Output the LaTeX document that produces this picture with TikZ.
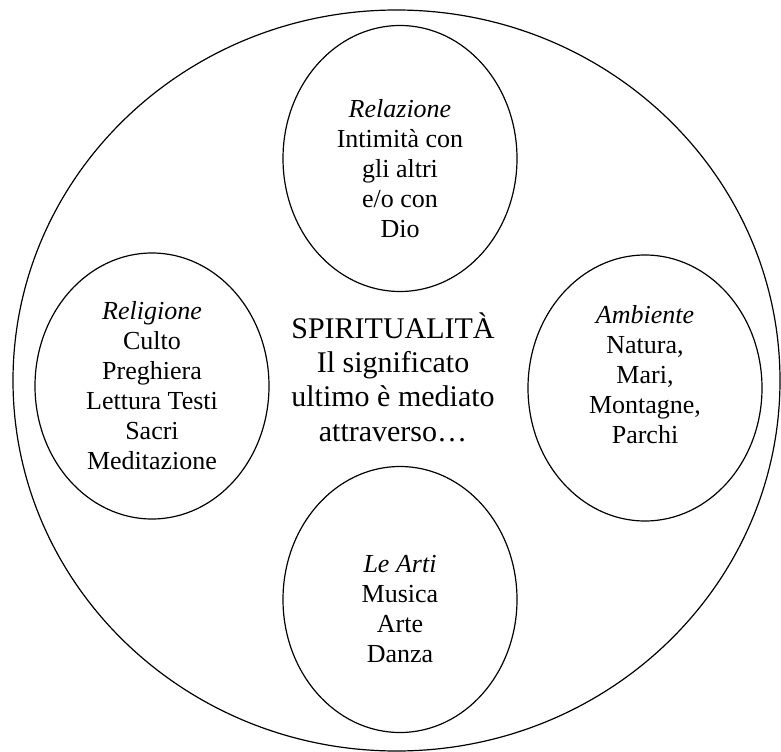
\documentclass[tikz,border=0pt]{standalone}
\usepackage{fontspec}
\setmainfont{Liberation Serif}
\usetikzlibrary{shapes.geometric}

\begin{document}
\begin{tikzpicture}[x=0.75pt,y=-0.75pt,line width=0.9pt,
        area/.style={draw,ellipse,minimum width=175.5pt,minimum height=199.5pt,inner sep=0pt},
        areatext/.style={align=center,inner sep=0pt,font=\fontsize{19.5}{22.5}\selectfont}]
        \useasboundingbox (0,0) rectangle (781,752);
        \node[draw,ellipse,minimum width=575.25pt,minimum height=555.75pt,inner sep=0pt] (spirit) at (396.5,380.5) {};
        \node[area] (rel) at (400,158.5) {};
        \node[area] (rlg) at (152,386) {};
        \node[area] (amb) at (645,388) {};
        \node[area] (arti) at (400,599.5) {};
        \node[areatext] (reltxt) at (400,169) {\textit{Relazione}\\Intimità con\\gli altri\\e/o con\\Dio};
        \node[areatext] (rlgtxt) at (152,386) {\textit{Religione}\\Culto\\Preghiera\\Lettura Testi\\Sacri\\Meditazione};
        \node[areatext] (ambtxt) at (645,375) {\textit{Ambiente}\\Natura,\\Mari,\\Montagne,\\Parchi};
        \node[areatext] (artitxt) at (400,609) {\textit{Le Arti}\\Musica\\Arte\\Danza};
        \node[align=center,inner sep=0pt,font=\fontsize{22.5}{25.7}\selectfont] (spirittxt) at (393,377)
            {SPIRITUALITÀ\\Il significato\\ultimo è mediato\\attraverso\dots};
    \end{tikzpicture}
\end{document}
